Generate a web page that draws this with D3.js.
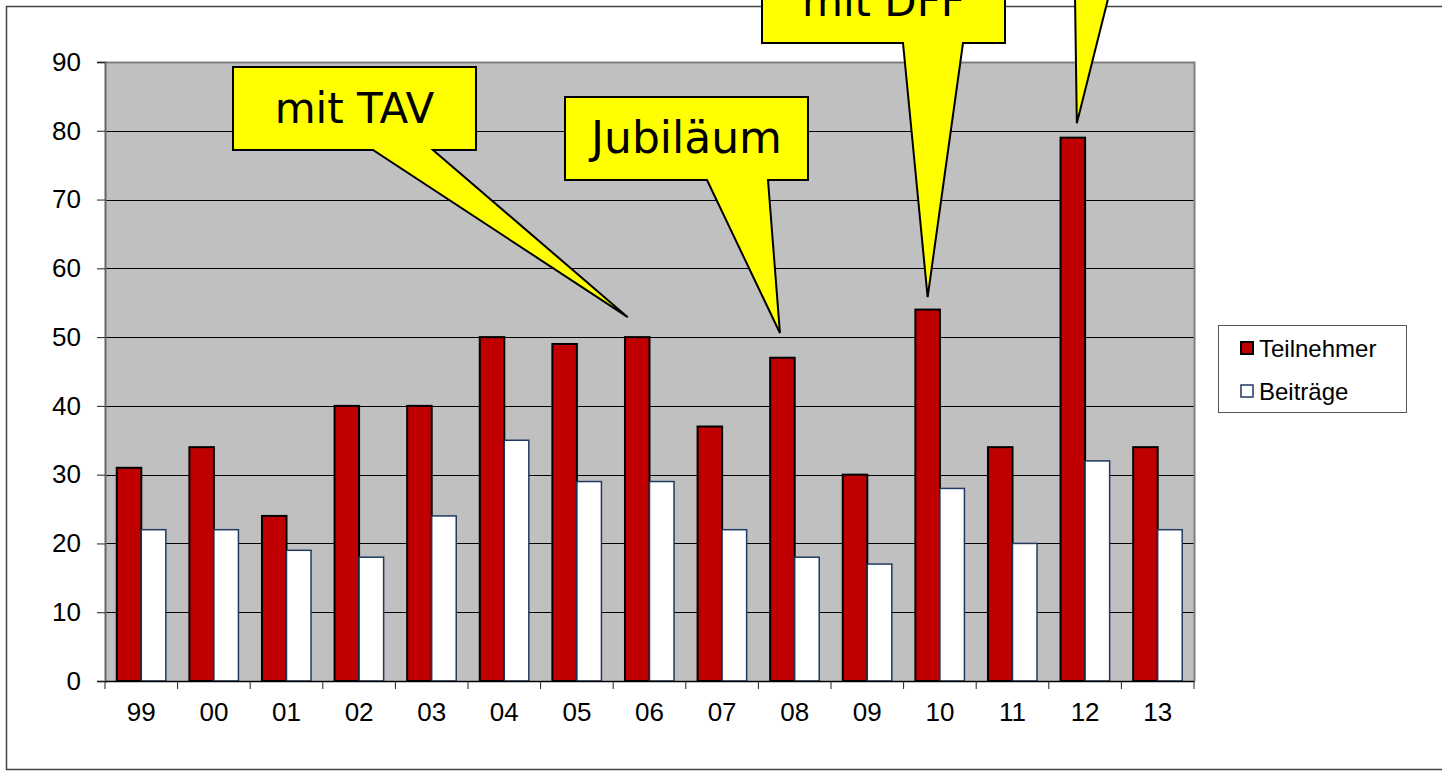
<!DOCTYPE html>
<html>
<head>
<meta charset="utf-8">
<script src="https://cdn.jsdelivr.net/npm/d3@7"></script>
<style>
  body { margin: 0; background: #fff; }
  svg { display: block; }
</style>
</head>
<body>
<div id="chart"></div>
<script>
// data
var years = ["99", "00", "01", "02", "03", "04", "05", "06", "07", "08", "09", "10", "11", "12", "13"];
var teilnehmer = [31, 34, 24, 40, 40, 50, 49, 50, 37, 47, 30, 54, 34, 79, 34];
var beitraege = [22, 22, 19, 18, 24, 35, 29, 29, 22, 18, 17, 28, 20, 32, 22];
var seriesNames = ["Teilnehmer", "Beiträge"];
var yTicks = [0, 10, 20, 30, 40, 50, 60, 70, 80, 90];

// callouts: which bar they point at and the value at the tip
var calloutText = ["mit TAV", "Jubiläum", "mit DFF", ""];
var calloutYear = ["06", "08", "10", "12"];
var calloutValue = [52.9, 50.6, 55.8, 81.1];

var W = 1442, H = 772;
var plot = {left: 105, right: 1194, top: 62, bottom: 681};

var svg = d3.select("#chart").append("svg")
  .attr("width", W).attr("height", H);

// outer frame
svg.append("rect")
  .attr("x", 6.5).attr("y", 6.5)
  .attr("width", 1450).attr("height", 763)
  .attr("fill", "#fff")
  .attr("stroke", "#444").attr("stroke-width", 1.5);

var x = d3.scaleBand().domain(years).range([plot.left, plot.right]).padding(0);
var x1 = d3.scaleBand().domain(seriesNames).range([0, x.bandwidth()])
  .paddingInner(0).paddingOuter(0.48);
var y = d3.scaleLinear().domain([0, 90]).range([plot.bottom, plot.top]);

// plot background
svg.append("rect")
  .attr("x", plot.left).attr("y", plot.top)
  .attr("width", plot.right - plot.left).attr("height", plot.bottom - plot.top)
  .attr("fill", "#c0c0c0");

// gridlines
svg.append("g").selectAll("line")
  .data(yTicks.filter(function(d) { return d > 0 && d < 90; }))
  .enter().append("line")
  .attr("x1", plot.left).attr("x2", plot.right)
  .attr("y1", function(d) { return Math.round(y(d)) + 0.5; })
  .attr("y2", function(d) { return Math.round(y(d)) + 0.5; })
  .attr("stroke", "#000").attr("stroke-width", 1);

// top / right border of plot area
svg.append("path")
  .attr("d", "M" + plot.left + "," + (plot.top + 0.5) + "H" + (plot.right + 0.5) + "V" + plot.bottom)
  .attr("fill", "none").attr("stroke", "#808080").attr("stroke-width", 2);

// bars
var rows = years.map(function(yr, i) {
  return {year: yr, values: [
    {key: "Teilnehmer", value: teilnehmer[i]},
    {key: "Beiträge", value: beitraege[i]}
  ]};
});

var groups = svg.append("g").selectAll("g")
  .data(rows).enter().append("g")
  .attr("transform", function(d) { return "translate(" + x(d.year) + ",0)"; });

groups.selectAll("rect")
  .data(function(d) { return d.values; })
  .enter().append("rect")
  .attr("x", function(d) { return x1(d.key); })
  .attr("y", function(d) { return y(d.value); })
  .attr("width", x1.bandwidth())
  .attr("height", function(d) { return y(0) - y(d.value); })
  .attr("fill", function(d) { return d.key == "Teilnehmer" ? "#c00000" : "#fff"; })
  .attr("stroke", function(d) { return d.key == "Teilnehmer" ? "#000" : "#1f3a60"; })
  .attr("stroke-width", function(d) { return d.key == "Teilnehmer" ? 2 : 1.5; });

// y axis
var yAxis = svg.append("g")
  .attr("transform", "translate(" + plot.left + ",0)")
  .call(d3.axisLeft(y).tickValues(yTicks).tickSize(8).tickPadding(16));
yAxis.select(".domain").attr("stroke", "#666").attr("stroke-width", 2);
yAxis.selectAll(".tick line").attr("stroke", "#222");
yAxis.selectAll("text")
  .attr("font-family", "Liberation Sans, Arial, sans-serif")
  .attr("font-size", 26).attr("fill", "#000");

// x axis
var xAxis = svg.append("g")
  .attr("transform", "translate(0," + plot.bottom + ")")
  .call(d3.axisBottom(x).tickSize(0).tickPadding(22));
xAxis.select(".domain").attr("stroke", "#000").attr("stroke-width", 1.5);
xAxis.selectAll("text")
  .attr("font-family", "Liberation Sans, Arial, sans-serif")
  .attr("font-size", 26).attr("fill", "#000");
// tick marks sit on the category boundaries
svg.append("g").selectAll("line")
  .data(years.concat(["end"]))
  .enter().append("line")
  .attr("x1", function(d) { return d == "end" ? plot.right : x(d); })
  .attr("x2", function(d) { return d == "end" ? plot.right : x(d); })
  .attr("y1", plot.bottom).attr("y2", plot.bottom + 8)
  .attr("stroke", "#222").attr("stroke-width", 1);

// legend
var legend = svg.append("g");
legend.append("rect")
  .attr("x", 1218.5).attr("y", 325.5).attr("width", 188).attr("height", 87)
  .attr("fill", "#fff").attr("stroke", "#555").attr("stroke-width", 1);
seriesNames.forEach(function(name, i) {
  var ly = 348 + i * 43;
  legend.append("rect")
    .attr("x", 1241).attr("y", ly - 6).attr("width", 12).attr("height", 12)
    .attr("fill", i == 0 ? "#c00000" : "#fff")
    .attr("stroke", i == 0 ? "#000" : "#1f3a60")
    .attr("stroke-width", i == 0 ? 2 : 1.5);
  legend.append("text")
    .attr("x", 1259).attr("y", ly + 8.5)
    .attr("font-family", "Liberation Sans, Arial, sans-serif")
    .attr("font-size", 24)
    .text(name);
});

// callout boxes (layout only)
var boxes = [
  {x: 233, y: 67, w: 243, h: 83, baseL: 373, baseR: 433, dx: -9.5},
  {x: 565, y: 97, w: 243, h: 83, baseL: 707, baseR: 768, dx: -2.5},
  {x: 762, y: -40, w: 243, h: 83, baseL: 903, baseR: 963, dx: 0},
  {x: 1040, y: -120, w: 0, h: 115, baseL: 1075, baseR: 1109, dx: 4}
];

var callouts = svg.append("g");
calloutText.forEach(function(t, i) {
  var b = boxes[i];
  var tipX = x(calloutYear[i]) + x1("Teilnehmer") + x1.bandwidth() / 2 + b.dx;
  var tipY = y(calloutValue[i]);
  var by = b.y + b.h;
  var d;
  if (b.w > 0) {
    d = "M" + b.x + "," + b.y + "H" + (b.x + b.w) + "V" + by +
      "H" + b.baseR + "L" + tipX + "," + tipY + "L" + b.baseL + "," + by +
      "H" + b.x + "Z";
  } else {
    d = "M" + b.baseL + "," + by + "L" + tipX + "," + tipY + "L" + b.baseR + "," + by + "Z";
  }
  callouts.append("path")
    .attr("d", d)
    .attr("fill", "#ffff00").attr("stroke", "#000").attr("stroke-width", 2)
    .attr("stroke-linejoin", "miter");
  if (t) {
    callouts.append("text")
      .attr("x", b.x + b.w / 2).attr("y", b.y + 56)
      .attr("text-anchor", "middle")
      .attr("font-family", "DejaVu Sans, sans-serif")
      .attr("font-size", i == 1 ? 44 : 42)
      .text(t);
  }
});
</script>
</body>
</html>
